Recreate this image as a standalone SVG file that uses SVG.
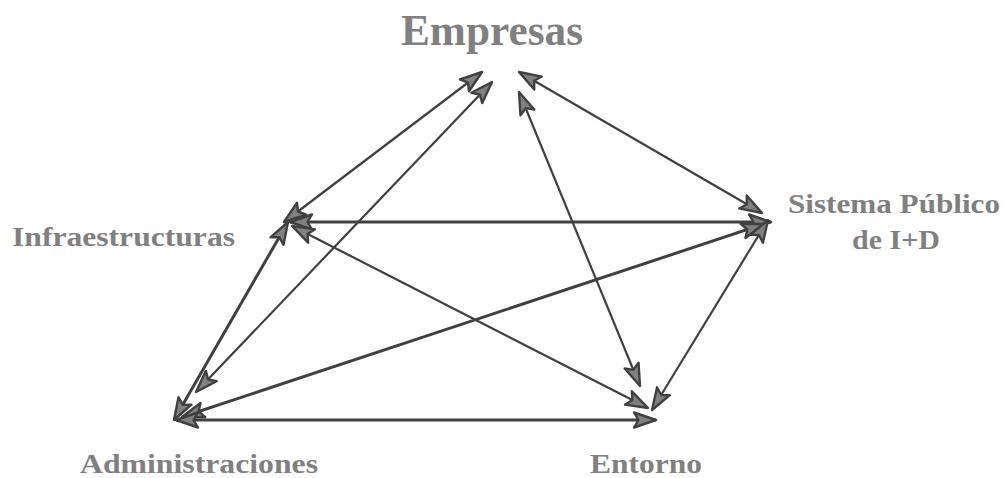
<svg xmlns="http://www.w3.org/2000/svg" width="1004" height="478" viewBox="0 0 1004 478">
<style>
.lbl{font-family:"Liberation Serif","Times New Roman",serif;font-weight:bold;fill:#808080}
.c line{stroke:#404040;stroke-width:2.2;marker-start:url(#ah);marker-end:url(#ah)}
.c line.t{stroke-width:3}
</style>
<defs>
<marker id="ah" markerUnits="userSpaceOnUse" viewBox="0 0 26 18" refX="24" refY="9" markerWidth="26" markerHeight="18" orient="auto-start-reverse">
<path d="M2,1.5 L24,9 L2,16.5 L6.5,9 z" fill="#808080" stroke="#404040" stroke-width="2.4" stroke-linejoin="round"/>
</marker>
</defs>
<rect width="1004" height="478" fill="#ffffff"/>
<g class="c" id="connectors">
<line x1="482" y1="72" x2="284" y2="222"/>
<line x1="492" y1="82" x2="196" y2="392"/>
<line x1="519" y1="92" x2="640" y2="386"/>
<line x1="519" y1="72" x2="762" y2="213"/>
<line class="t" x1="290" y1="222" x2="771" y2="222"/>
<line x1="292" y1="226" x2="648" y2="408"/>
<line class="t" x1="288" y1="222" x2="174" y2="420"/>
<line class="t" x1="182" y1="417" x2="764" y2="224"/>
<line class="t" x1="176" y1="420" x2="656" y2="420"/>
<line x1="768" y1="220" x2="652" y2="410"/>
</g>
<g id="empresas"><text class="lbl" x="492" y="45" font-size="44" text-anchor="middle" textLength="182" lengthAdjust="spacingAndGlyphs">Empresas</text></g>
<g id="infraestructuras"><text class="lbl" x="12" y="246" font-size="28" textLength="223" lengthAdjust="spacingAndGlyphs">Infraestructuras</text></g>
<g id="sistema"><text class="lbl" x="788" y="213" font-size="28" textLength="212" lengthAdjust="spacingAndGlyphs">Sistema Público</text><text class="lbl" x="852" y="249" font-size="28" textLength="88" lengthAdjust="spacingAndGlyphs">de I+D</text></g>
<g id="administraciones"><text class="lbl" x="80" y="473" font-size="28" textLength="238" lengthAdjust="spacingAndGlyphs">Administraciones</text></g>
<g id="entorno"><text class="lbl" x="590" y="473" font-size="28" textLength="112" lengthAdjust="spacingAndGlyphs">Entorno</text></g>
</svg>
